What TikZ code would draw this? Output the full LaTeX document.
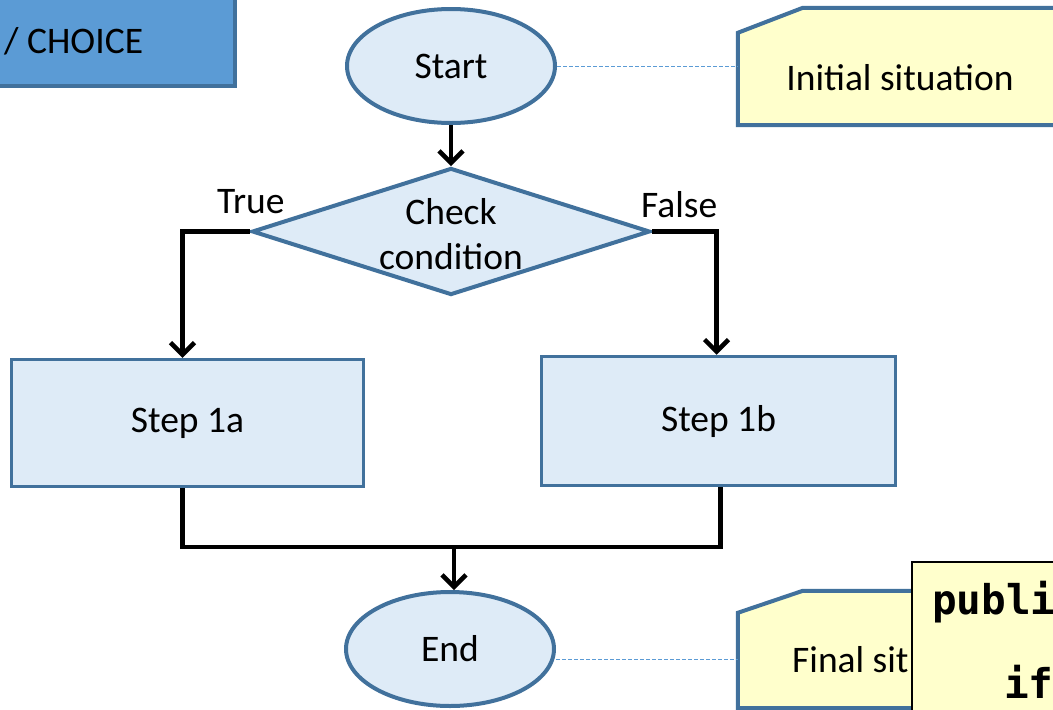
\documentclass[tikz,border=0pt]{standalone}
\usepackage{fontspec}
\setmainfont{Carlito}
\newfontfamily\codefont{DejaVu Sans Mono}
\usetikzlibrary{shapes.geometric,arrows.meta}
\definecolor{edgeblue}{HTML}{41719C}
\definecolor{fillblue}{HTML}{DEEBF7}
\definecolor{headblue}{HTML}{5B9BD5}
\definecolor{noteyellow}{HTML}{FFFFCC}
\tikzset{
  txt/.style={font=\fontsize{37.5}{45}\selectfont, inner sep=0pt, align=center},
  terminal/.style={ellipse, draw=edgeblue, fill=fillblue, line width=4pt,
    minimum width=208pt, minimum height=114pt, inner sep=0pt, txt},
  process/.style={rectangle, draw=edgeblue, fill=fillblue, line width=3.5pt,
    inner sep=0pt, txt},
  decision/.style={diamond, draw=edgeblue, fill=fillblue, line width=4pt,
    minimum width=398pt, minimum height=127pt, aspect=3.13, inner sep=0pt},
  notearea/.style={rectangle, draw=none, minimum width=324pt, minimum height=117pt, inner sep=0pt},
  noteline/.style={draw=edgeblue, fill=noteyellow, line width=4pt, line join=miter},
  conn/.style={draw=black, line width=4.5pt},
  arrowconn/.style={conn, -{Straight Barb[length=12pt,width=24pt,line width=4.5pt]}},
  guide/.style={draw=headblue, line width=1pt, dash pattern=on 4pt off 2pt},
  codetxt/.style={font=\codefont\bfseries\fontsize{41}{48}\selectfont, inner sep=0pt},
}
\begin{document}
\begin{tikzpicture}[x=1pt,y=-1pt]
\useasboundingbox (0,0) rectangle (1053,710);
\clip (0,0) rectangle (1053,710);
\fill[white] (0,0) rectangle (1053,710);

% title tab in the upper left corner
\draw[draw=edgeblue, fill=headblue, line width=4pt] (-10,-10) rectangle (235,86);
\node[txt, anchor=base west] (title) at (4,53) {/ CHOICE};

% flowchart nodes
\node[terminal] (start) at (451,66) {Start};
\node[decision] (cond) at (451,231.5) {};
\node[txt] (condtxt) at (451,234) {Check\\condition};
\node[process, minimum width=352pt, minimum height=127pt] (s1a) at (187.5,423) {Step 1a};
\node[process, minimum width=354pt, minimum height=129pt] (s1b) at (718.5,421) {Step 1b};
\node[terminal] (end) at (450,649) {End};

% branch labels
\node[txt, anchor=base west] (truelbl) at (217,213) {True};
\node[txt, anchor=base west] (falselbl) at (641,217) {False};

% connectors
\draw[arrowconn] (start.south) -- (cond.north);
\draw[arrowconn] (cond.west) -| ([xshift=-5pt]s1a.north);
\draw[arrowconn] (cond.east) -| ([xshift=-2pt]s1b.north);
\coordinate (join) at (454,547);
\draw[conn] ([xshift=-5pt]s1a.south) |- (join) -| ([xshift=2pt]s1b.south);
\draw[arrowconn] (join) -- (join |- end.north);

% note boxes with a chamfered corner
\node[notearea] (init) at (900,66.5) {};
\draw[noteline] (init.south west) -- ([yshift=-25pt]init.north west)
  -- ([xshift=65pt]init.north west) -- (init.north east) -- (init.south east) -- cycle;
\node[txt, anchor=base] (inittxt) at (900,90) {Initial situation};

\node[notearea] (final) at (900,649.5) {};
\draw[noteline] (final.south west) -- ([yshift=-22pt]final.north west)
  -- ([xshift=65pt]final.north west) -- (final.north east) -- (final.south east) -- cycle;
\node[txt, anchor=base west] (finaltxt) at (792,672) {Final sit};

% dashed guides from the terminals to the notes
\draw[guide] (start.east) -- (start.east -| init.west);
\draw[guide] ([yshift=-10pt]end.east) -- ([yshift=-10pt]end.east -| final.west);

% code box
\draw[draw=black, fill=noteyellow, line width=2pt] (912,562) rectangle (1100,760);
\node[codetxt, anchor=base west] (code1) at (932,614) {publi};
\node[codetxt, anchor=base west] (code2) at (1004,698) {if};
\end{tikzpicture}
\end{document}
